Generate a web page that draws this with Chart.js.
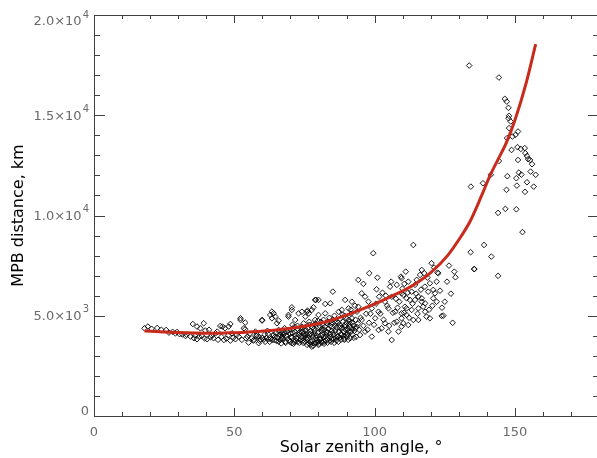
<!DOCTYPE html>
<html>
<head>
<meta charset="utf-8">
<script src="https://cdn.jsdelivr.net/npm/chart.js@4"></script>
<style>
  html, body { margin: 0; padding: 0; background: #fff; overflow: hidden; }
  #wrap { width: 604px; height: 458px; }
</style>
</head>
<body>
<div id="wrap"><canvas id="mpbPlot" width="604" height="458"></canvas></div>
<script>
// solar zenith angle (deg) / MPB distance (km) of the crossings
const sza = [
  18, 19.2, 20.5, 22.5, 24, 25.7, 26.7, 28, 29, 29.6, 30.5,
  31.5, 32.6, 33, 34.4, 35.2, 35.6, 36, 36.7, 36.7, 37.9, 37.5, 38.4, 39.1, 39.7, 39.4, 40.3,
  41, 41.5, 42, 42.6, 43.3, 43.9, 44.2, 45, 45.4, 45.8, 46.3, 46.7, 47.2, 47.8, 48, 48.6, 48.6,
  49.2, 49.6, 50.4, 50.9, 51.6, 52.2, 52.2, 52.7, 53.4, 53.9, 53.9, 54.2, 54.7, 55.1, 55.5,
  56.3, 56.8, 57.5, 57.9, 58.7, 58.7, 59.3, 59.9, 59.9, 60.5, 60.8,
  61.4, 61.8, 62.2, 62.6, 62.8, 63.4, 63.4, 63.7, 64, 64.3, 64.6, 64.9, 65.2, 65.5, 65.8, 65.8,
  65.8, 66.3, 66.7, 67, 67.4, 67.9, 68.2, 68.5, 68.8, 69.3, 69.3, 69.6, 70, 70.3, 70.5, 70.5,
  70.5, 70.9, 71.3, 71.7, 71.9, 72.2, 72.5, 72.9, 73.2, 73.5, 73.8, 74.1, 74.4, 74.7, 75, 75.3,
  75.6, 75.9, 76.1, 76.2, 76.5, 76.5, 76.8, 77.1, 77.4, 77.6, 77.6, 77.9, 78.2, 78.2, 78.5,
  78.8, 78.8, 79.1, 79.1, 79.4, 79.7, 80, 80, 80, 80, 80.3, 80.6, 80.9, 81.2, 81.2, 81.5, 81.8,
  82.1, 82.4, 82.4, 82.7, 83, 83.3, 83.6, 83.9, 84.2, 84.2, 84.5, 84.8, 85.1, 85.4, 85.7, 86,
  86.3, 86.6, 86.9, 87.2, 87.5, 87.8, 88.1, 88.3, 88.9, 89.2, 89.5, 89.5, 89.8, 90.1, 90.4,
  90.7, 90.7, 91, 91.3, 91.6, 91.9, 91.9, 92.2, 92.5, 93.1, 93.4, 93.7, 94.2, 94.2, 94.8, 95.4,
  95.4, 96, 96.6, 96.6, 97.8, 98.1, 99, 99, 99.5, 100.2, 100.7, 101.4, 101.4, 101.6, 102.5,
  103.7, 103.7, 104.9, 104.9, 105.5, 106.1, 106.1, 107.3, 107.9, 107.9, 108.5, 109.4, 109.6,
  109.6, 109.6, 109.6, 109.6, 110.2, 110.2, 110.6, 110.8, 111.1, 111.4, 111.4, 111.4, 112, 112, 112.6,
  113.2, 113.2, 113.8, 113.8, 114.4, 114.4, 115, 115.6, 115.6, 115.6, 116.2, 116.8, 116.8,
  116.8, 117.7, 117.9, 118, 118, 118.5, 119.1, 119.7, 119.7, 120.3, 120.9, 120.9, 121.5, 122.1,
  122.1, 122.4, 122.7, 123.9, 124.5, 125, 126.5, 128.4, 128.8, 134.2, 135.5, 139, 141.6, 144,
  // dense cloud
  62, 63, 64, 65, 66, 67, 68, 69, 69.5, 70.8, 71.5, 72, 72.8, 73, 73.7, 74.2, 74.6, 75.2, 75.8,
  75.5, 76, 76.8, 77, 77.8, 78, 78.6, 79, 79.5, 80.1, 80.5, 81, 81.3, 81.8, 82, 82.3, 82.8, 83.2,
  83.5, 84, 84.3, 84.7, 85, 85.3, 85.8, 86.2, 86.5, 87, 87.3, 87.7, 88, 88.4, 88.7, 89, 89.3,
  89.7, 90, 90.3, 90.8, 91.2, 91.6, 92, 92.8, 93.2, 94, 94.5, 95, 96, 97, 98, 97.5,
  66.5, 67.5, 68.3, 68.9, 69.8, 70.2, 70.7, 71.1, 71.6, 72.1,
  72.6, 73.1, 73.6, 74, 74.5, 74.9, 75.4, 75.9, 76.3, 76.7,
  77.2, 77.7, 78.1, 78.4, 78.9, 79.3, 79.8, 80.2, 80.7, 81.1,
  81.6, 82, 82.5, 82.9, 83.4, 83.8, 84.1, 84.6, 85.2, 85.6,
  86.1, 86.7, 87.1, 87.6, 88.2, 88.6, 89.1, 89.6, 90.2, 90.6,
  91.1, 91.5, 92.1, 92.6, 93, 93.6, 57, 58, 59, 60,
  61, 63.5, 64.5, 66.8,
  // 100-130 deg
  98.5, 99.8, 100.5, 101, 102, 102.8, 103.2, 104, 104.5, 105.2,
  105.9, 106.5, 107, 107.6, 108.2, 108.8, 109.9, 110.5, 111.8, 112.3,
  113.5, 114.8, 115.3, 116.5, 117.3, 118.8, 119.4, 120.6, 121.2, 123.3,
  124, 125.8, 127.2, 127.8,
  // high zenith angles
  133.7, 134.3, 135.5, 138.6, 141.4, 144, 144.3, 146.4, 147.1, 147.7, 147.9, 147.7, 148.5,
  147.9, 149.1, 150.2, 151.1, 147.2, 148.8, 150.9, 152.1, 153.5, 153.7, 154.3, 154.7, 155.4,
  156.1, 151.1, 144.3, 147.3, 151.4, 152.3, 155.6, 157.4, 150.5, 154.3, 156.7, 150.7, 147,
  153.6, 146.6, 150.5, 152.7
]
const mpb = [
  4375, 4460, 4350, 4390, 4300, 4290, 4160, 4200, 4120, 4190, 4080,
  4070, 3990, 4060, 3960, 4590, 3880, 4020, 4460, 3830, 4375, 3950, 3990, 4625, 4260, 3870, 3830,
  4300, 3930, 4010, 3880, 4125, 4210, 3800, 4490, 3950, 4460, 3790, 4375, 3860, 4020, 4460, 4590, 3760,
  4125, 3900, 3830, 4050, 3960, 4790, 4875, 3800, 4375, 4660, 4325, 3880, 3960, 3660, 4100,
  3880, 3760, 4210, 3990, 3630, 3960, 3820, 4760, 4790, 3810, 4060,
  3900, 4250, 3830, 3700, 5040, 4875, 5205, 4000, 5120, 3780, 4955, 4150, 4625, 3900, 4290, 4755,
  3710, 4050, 3620, 4125, 3850, 4380, 3710, 4000, 4200, 4955, 5040, 3780, 4100, 3920, 5290, 5420,
  3630, 4350, 3700, 4790, 4050, 3860, 4500, 5120, 3650, 4220, 3950, 5200, 3760, 4620, 4100, 4955,
  3880, 5205, 5255, 4380, 5120, 3630, 4020, 3560, 4250, 5290, 3460, 3760, 3620, 5420, 4550,
  4790, 5790, 5790, 3900, 3660, 4150, 3710, 5040, 5790, 3540, 4400, 3820, 4700, 3660, 3710, 4050, 3950,
  4300, 5120, 5590, 3750, 4210, 4600, 3900, 4900, 5620, 4100, 3700, 4450, 6200, 3850, 5000, 4250,
  3760, 4700, 4000, 5200, 3900, 4500, 4100, 5290, 4210, 3800, 4540, 5790, 4900, 3950, 4350,
  5370, 4210, 4700, 3880, 5100, 5700, 4875, 4050, 4500, 4375, 3950, 5200, 5450, 6790, 4040, 6120,
  4790, 6590, 5950, 4210, 5700, 7120, 5370, 3960, 8120, 4875, 6320, 5200, 4290, 5950, 4375,
  5700, 4625, 5370, 4210, 6450, 5950, 3790, 5200, 6540, 4705, 4210, 6950, 6120,
  5120, 6870, 4875, 4460, 4625, 6040, 6590, 5450, 7200, 5870, 5370, 5040, 6700, 4540, 5790,
  6200, 5290, 8530, 4790, 6540, 5790, 6790, 5950, 5370, 4790, 7035, 7285, 5870,
  5700, 7120, 6450, 5620, 5200, 4955, 6200, 6620, 4875, 7620, 6290, 5870, 6120, 6700,
  5700, 7150, 7120, 4990, 5005, 5700, 7500, 7200, 6920, 8170, 7335, 8530, 7950, 6990,
  // dense cloud
  4100, 3850, 4050, 3750, 4200, 3950, 4150, 3850, 4300, 4150, 4450, 3750, 4300, 4050, 4400, 3900, 4200, 3700, 4050,
  4300, 3800, 4550, 4100, 4400, 3950, 4250, 4600, 3800, 4200, 4500, 4000, 4350, 4800, 3600, 4450, 4050, 3650,
  4350, 4700, 3950, 4250, 4800, 4050, 4500, 3900, 4400, 4650, 4200, 4850, 3800, 4400, 4700, 4000, 5000,
  4300, 4650, 4100, 4800, 4450, 4200, 4650, 4250, 4800, 4600, 4300, 4900, 4500, 5100, 4650, 4300,
  3800, 4050, 3650, 4250, 3700, 3950, 4550, 3600, 4200, 3900,
  3700, 4150, 3800, 4450, 3650, 4000, 4250, 3550, 3900, 4700,
  3700, 4050, 3500, 4350, 3650, 4000, 4750, 3600, 3850, 4250,
  4550, 3700, 3950, 4150, 4700, 3750, 4500, 3850, 4150, 3650,
  4650, 3950, 3700, 4400, 4050, 5050, 3850, 4450, 4050, 3800,
  4600, 5300, 4350, 3900, 5500, 4450, 3800, 4050, 3750, 3900,
  3700, 3800, 3950, 3880,
  // 100-130 deg
  5100, 4550, 5600, 6900, 5100, 6150, 4800, 6000, 5500, 4500,
  6700, 5150, 4650, 5850, 5400, 5700, 6350, 5150, 6150, 4900,
  5600, 6100, 5100, 6300, 5450, 6900, 5300, 5500, 7400, 6250,
  5400, 6700, 6100, 4650,
  // high zenith angles
  17480, 11440, 7320, 11610, 12030, 10130, 16880, 15820, 15680, 15370, 14970, 14850, 14690,
  14360, 13940, 14020, 14190, 13860, 13270, 13410, 13320, 13360, 13110, 12970, 12810, 12770,
  12560, 12770, 12720, 11960, 12140, 12040, 12190, 12030, 11860, 11660, 11440, 11490, 11280,
  11180, 10330, 10310, 9170
]

// fitted curve
const fitX = [18, 25, 30, 36, 42, 48, 54, 62, 72, 84, 96, 108, 114, 120, 126, 131, 134, 138, 141, 144, 147, 150, 154, 157.4]
const fitY = [4240, 4190, 4160, 4140, 4130, 4150, 4180, 4250, 4410, 4750, 5350, 6100, 6550, 7150, 8000, 9000, 9700, 10950, 11950, 12800, 13650, 14750, 16600, 18550]

const yTickLabels = ['0', '5.0×10|3', '1.0×10|4', '1.5×10|4', '2.0×10|4']
const xTitle = 'Solar zenith angle, °'

const tickFont = '13px "DejaVu Sans"'
const supFont = '10px "DejaVu Sans"'
const tickColor = '#6a6a6a'

// frame with inward ticks on all four sides, y labels with exponent, x title
const framePlugin = {
    id: 'frame',
    afterDraw(chart) {
        const {ctx, chartArea: a, scales: {x, y}} = chart
        ctx.save()
        ctx.strokeStyle = '#404040'
        ctx.lineWidth = 1
        ctx.beginPath()
        ctx.rect(Math.round(a.left) + 0.5, Math.round(a.top) + 0.5, Math.round(a.right - a.left), Math.round(a.bottom - a.top))
        for (let v = 0; v <= 180; v += 10) {
            const px = Math.round(x.getPixelForValue(v)) + 0.5
            const len = v % 50 === 0 ? 8 : 4
            ctx.moveTo(px, a.bottom); ctx.lineTo(px, a.bottom - len)
            ctx.moveTo(px, a.top); ctx.lineTo(px, a.top + len)
        }
        for (let v = 0; v <= 20000; v += 1000) {
            const py = Math.round(y.getPixelForValue(v)) + 0.5
            const len = v % 5000 === 0 ? 11 : 6
            ctx.moveTo(a.left, py); ctx.lineTo(a.left + len, py)
            ctx.moveTo(a.right, py); ctx.lineTo(a.right - len, py)
        }
        ctx.stroke()

        ctx.fillStyle = tickColor
        ctx.textBaseline = 'middle'
        ctx.textAlign = 'right'
        const right = a.left - 5
        y.ticks.forEach((t, i) => {
            let py = y.getPixelForValue(t.value) + 1
            if (i === 0) py -= 5
            if (i === y.ticks.length - 1) py += 6
            const [main, sup] = yTickLabels[i].split('|')
            let r = right
            if (sup) {
                ctx.font = supFont
                ctx.fillText(sup, r, py - 7)
                r -= ctx.measureText(sup).width + 1
            }
            ctx.font = tickFont
            ctx.fillText(main, r, py)
        })

        ctx.fillStyle = '#000'
        ctx.textAlign = 'center'
        ctx.font = '16px "DejaVu Sans"'
        ctx.fillText(xTitle, 361, 448)
        ctx.restore()
    }
}

new Chart(document.getElementById('mpbPlot'), {
    data: {
        datasets: [{
            type: 'line',
            label: 'fit',
            data: fitX.map((v, i) => ({x: v, y: fitY[i]})),
            borderColor: '#c92a1c',
            borderWidth: 3,
            pointRadius: 0,
            fill: false,
            cubicInterpolationMode: 'monotone',
            order: 0
        }, {
            type: 'scatter',
            label: 'MPB',
            data: sza.map((v, i) => ({x: v, y: mpb[i]})),
            pointStyle: 'rectRot',
            pointRadius: 2.8,
            borderWidth: 0.9,
            borderColor: '#000',
            backgroundColor: 'rgba(255,255,255,0)',
            order: 1
        }]
    },
    options: {
        responsive: false,
        animation: false,
        layout: {padding: {top: 15, right: 2, left: 0, bottom: 0}},
        plugins: {legend: {display: false}, tooltip: {enabled: false}},
        scales: {
            x: {
                type: 'linear',
                min: 0,
                max: 180,
                grid: {display: false, drawTicks: false},
                border: {display: false},
                ticks: {
                    stepSize: 50,
                    includeBounds: false,
                    padding: 9,
                    color: tickColor,
                    font: {family: 'DejaVu Sans', size: 13}
                },
                afterFit: s => { s.height = 42 }
            },
            y: {
                type: 'linear',
                min: 0,
                max: 20000,
                grid: {display: false, drawTicks: false},
                border: {display: false},
                ticks: {stepSize: 5000, display: false},
                title: {
                    display: true,
                    text: 'MPB distance, km',
                    color: '#000',
                    font: {family: 'DejaVu Sans', size: 16},
                    padding: {top: 9, bottom: 0}
                },
                afterFit: s => { s.width = 94 }
            }
        }
    },
    plugins: [framePlugin]
})
</script>
</body>
</html>
